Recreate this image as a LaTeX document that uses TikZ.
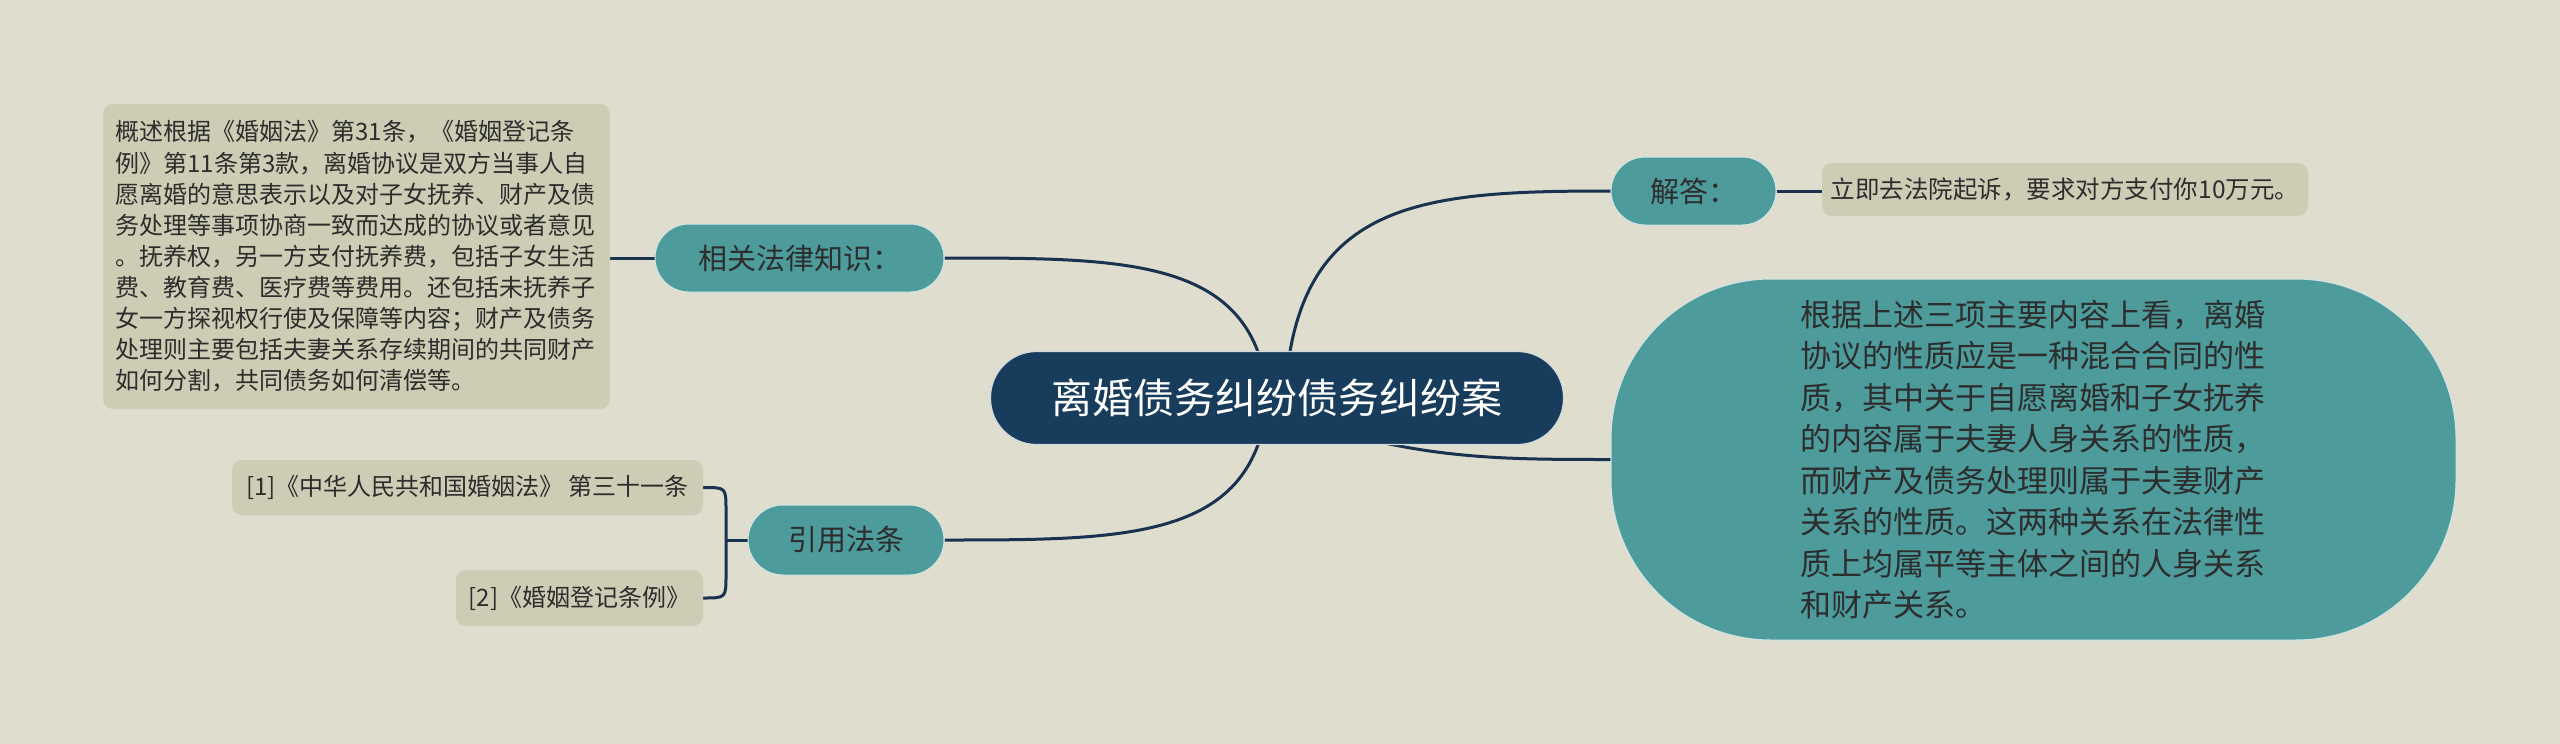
\documentclass[tikz,border=0pt]{standalone}
\usepackage{fontspec}
\newfontfamily\cjk{Noto Sans CJK SC}
\definecolor{bgc}{RGB}{222,221,206}
\definecolor{boxc}{RGB}{205,204,180}
\definecolor{tealc}{RGB}{77,155,155}
\definecolor{navyc}{RGB}{24,61,92}
\definecolor{linec}{RGB}{25,50,80}
\definecolor{txtc}{RGB}{45,45,45}
\pgfdeclarelayer{paper}
\pgfdeclarelayer{back}
\pgfsetlayers{paper,back,main}
\begin{document}
\begin{tikzpicture}[x=1pt,y=-1pt,
  central/.style={fill=navyc,draw=white!80!navyc,line width=1.2pt,rounded corners=46pt,minimum width=573pt,minimum height=93pt,inner sep=0pt,text=white,font=\cjk\fontsize{41}{48}\selectfont},
  pill/.style={fill=tealc,draw=white!75!tealc,line width=1pt,inner sep=0pt,text=txtc,font=\cjk\fontsize{29}{34}\selectfont},
  textbox/.style={fill=boxc,rounded corners=10pt,inner sep=0pt,text=txtc,font=\cjk\fontsize{24}{31.1}\selectfont},
  link/.style={draw=linec,line width=3pt}
]
\begin{pgfonlayer}{paper}
\fill[bgc] (0,0) rectangle (2560,744);
\end{pgfonlayer}
\useasboundingbox (0,0) rectangle (2560,744);

\node[central] (c) at (1277,398) {离婚债务纠纷债务纠纷案};

\node[pill,rounded corners=34pt,minimum width=289pt,minimum height=68pt] (xg) at (799.5,258) {相关法律知识：};
\node[pill,rounded corners=35pt,minimum width=196pt,minimum height=70pt] (yy) at (846,540) {引用法条};
\node[pill,rounded corners=34pt,minimum width=165pt,minimum height=68pt] (jd) at (1693.5,191) {解答：};

\node[textbox,minimum width=507pt,minimum height=305pt,text width=482pt,align=left] (lb) at (356.5,256.5) {概述根据《婚姻法》第31条，《婚姻登记条\\例》第11条第3款，离婚协议是双方当事人自\\愿离婚的意思表示以及对子女抚养、财产及债\\务处理等事项协商一致而达成的协议或者意见\\。抚养权，另一方支付抚养费，包括子女生活\\费、教育费、医疗费等费用。还包括未抚养子\\女一方探视权行使及保障等内容；财产及债务\\处理则主要包括夫妻关系存续期间的共同财产\\如何分割，共同债务如何清偿等。};

\node[textbox,minimum width=471pt,minimum height=55pt,font=\cjk\fontsize{24}{28}\selectfont] (r1) at (467.5,487.5) {[1]《中华人民共和国婚姻法》 第三十一条};
\node[textbox,minimum width=247pt,minimum height=56pt,font=\cjk\fontsize{24}{28}\selectfont] (r2) at (579.5,598) {[2]《婚姻登记条例》};

\node[textbox,minimum width=486pt,minimum height=53pt,font=\cjk\fontsize{24.5}{28}\selectfont] (lj) at (2065,189.5) {立即去法院起诉，要求对方支付你10万元。};

\node[fill=tealc,draw=white!75!tealc,line width=1pt,rounded corners=160pt,minimum width=845pt,minimum height=361pt,inner sep=0pt,text width=467pt,align=left,text=txtc,font=\cjk\fontsize{31}{41.5}\selectfont] (big) at (2033.5,459.5) {根据上述三项主要内容上看，离婚\\协议的性质应是一种混合合同的性\\质，其中关于自愿离婚和子女抚养\\的内容属于夫妻人身关系的性质，\\而财产及债务处理则属于夫妻财产\\关系的性质。这两种关系在法律性\\质上均属平等主体之间的人身关系\\和财产关系。};

\coordinate (bk) at (726,540);

\begin{pgfonlayer}{back}
\draw[link] (1285,398) .. controls (1295,200) and (1420,191) .. (jd.west);
\draw[link] (1268,398) .. controls (1255,258) and (1130,258) .. (xg.east);
\draw[link] (1268,398) .. controls (1255,540) and (1130,540) .. (yy.east);
\draw[link] (1300,420) .. controls (1420,459.5) and (1500,459.5) .. (big.west);
\draw[link] (lb.east |- xg.west) -- (xg.west);
\draw[link] (jd.east) -- (jd.east -| lj.west);
\draw[link] (yy.west) -- (bk);
\draw[link] (r1.east) .. controls (726,487.5) .. (726,510) -- (726,575) .. controls (726,598) .. (r2.east);
\end{pgfonlayer}
\end{tikzpicture}
\end{document}
